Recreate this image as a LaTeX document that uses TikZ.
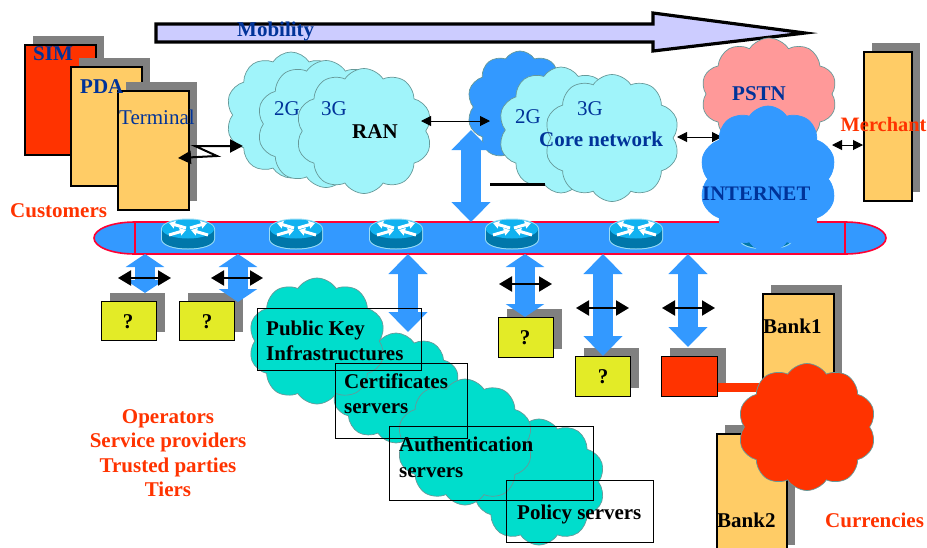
\documentclass[tikz,border=0pt]{standalone}
\usepackage{fontspec}
\setmainfont{Liberation Serif}
\usetikzlibrary{arrows.meta,shapes.symbols,shadows}
\definecolor{darkblue}{HTML}{003399}
\definecolor{netblue}{HTML}{3399FF}
\definecolor{redline}{HTML}{FF0033}
\definecolor{orangered}{HTML}{FF3300}
\definecolor{sand}{HTML}{FFCC66}
\definecolor{lemon}{HTML}{E3EB27}
\definecolor{aqua}{HTML}{A0F4FA}
\definecolor{teal1}{HTML}{00DDCC}
\definecolor{rose}{HTML}{FF9999}
\definecolor{lilac}{HTML}{CCCCFF}
\definecolor{puff}{HTML}{669999}
\definecolor{routerside}{HTML}{0077AA}
\definecolor{routertop}{HTML}{11B2F0}
\definecolor{routerrim}{HTML}{99DDF5}
\tikzset{
  box/.style={draw, rectangle, anchor=north west, line width=1.6pt, inner sep=0pt,
    drop shadow={shadow xshift=8pt, shadow yshift=9pt, fill=gray, opacity=1}},
  dim/.style 2 args={minimum width=#1, minimum height=#2},
  puffy/.style={cloud, cloud puffs=10, cloud puff arc=115, cloud ignores aspect, draw=puff, line width=.7pt, inner sep=0pt},
  frame/.style={draw, rectangle, anchor=north west, line width=.9pt, inner sep=0pt},
  txt/.style={anchor=base west, inner sep=0pt, font=\fontsize{21}{24}\selectfont},
  btxt/.style={txt, font=\fontsize{21}{24}\selectfont\bfseries},
  bluelink/.style={draw=netblue, line width=20pt, {Triangle[width=38pt,length=#1]}-{Triangle[width=38pt,length=#1]}},
  bluelink/.default=13pt,
  blacklink/.style={draw, line width=2pt, {Triangle[width=15pt,length=13pt]}-{Triangle[width=15pt,length=13pt]}},
  thinlink/.style={draw, line width=1pt, {Triangle[width=10pt,length=10pt]}-{Triangle[width=10pt,length=10pt]}},
  whitetip/.style={white, line width=3pt, -{Triangle[width=7.5pt,length=6pt]}},
  router/.pic={
    \fill[routerrim] (-27,-5) .. controls (-27,-11) and (-15,-15.5) .. (0,-15.5) .. controls (15,-15.5) and (27,-11) .. (27,-5)
      -- (27,5) .. controls (27,11.5) and (15,15.5) .. (0,15.5) .. controls (-15,15.5) and (-27,11.5) .. (-27,5) -- cycle;
    \fill[routerside] (-26,-5) -- (-26,5) .. controls (-26,10.5) and (-14.6,14.5) .. (0,14.5)
      .. controls (14.6,14.5) and (26,10.5) .. (26,5) -- (26,-5) -- cycle;
    \fill[routertop] (0,-5) ellipse [x radius=26pt, y radius=9.5pt];
    \draw[whitetip] (-2,-6) -- (-19,-11);
    \draw[whitetip] (-19,1) -- (-2,-4);
    \draw[whitetip] (2,-6) -- (19,-11);
    \draw[whitetip] (20,1) -- (3,-4);
  },
}

\begin{document}
\begin{tikzpicture}[x=1pt, y=-1pt]
    \useasboundingbox (0,0) rectangle (927,547);

    % Mobility arrow
    \draw[fill=lilac, line width=3.2pt] (156,24) -- (653,24) -- (653,13) -- (805,33) -- (653,51) -- (653,42) -- (156,42) -- cycle;
    \node[btxt, text=darkblue] (mobility) at (237,36) {Mobility};

    % Customers
    \node[box, dim={71}{110}, fill=orangered] (sim) at (24,44) {};
    \node[box, dim={71}{119}, fill=sand] (pda) at (70,66) {};
    \node[box, dim={71}{119}, fill=sand] (terminal) at (117,90) {};
    \node[btxt, text=darkblue] (simtext) at (33,60) {SIM};
    \node[btxt, text=darkblue] (pdatext) at (80,93) {PDA};
    \node[txt, text=darkblue] (terminaltext) at (119,124) {Terminal};
    \node[btxt, text=orangered] (customers) at (10,217) {Customers};

    % RAN
    \node[puffy, dim={130}{126}, fill=aqua] (ran-1) at (291,115) {};
    \node[puffy, dim={138}{127}, fill=aqua] (ran-2) at (326,124) {};
    \node[puffy, dim={136}{125}, fill=aqua] (ran-3) at (364,131) {};
    \node[txt, text=darkblue] (ran2g) at (274,115) {2G};
    \node[txt, text=darkblue] (ran3g) at (321,115) {3G};
    \node[btxt] (rantext) at (352,138) {RAN};

    % Core network
    \node[puffy, dim={106}{112}, fill=netblue] (core-1) at (520,107) {};
    \node[puffy, dim={125}{126}, fill=aqua] (core-2) at (561,130) {};
    \node[puffy, dim={135}{127}, fill=aqua] (core-3) at (612,138) {};
    \node[txt, text=darkblue] (core2g) at (515,123) {2G};
    \node[txt, text=darkblue] (core3g) at (577,115) {3G};
    \node[btxt, text=darkblue] (coretext) at (539,146) {Core network};
    \draw[line width=3pt] (490,184) -- (545,184);

    % Backbone
    \draw[fill=netblue, draw=redline, line width=1.6pt] (135,222) -- (845,222) .. controls (868,222) and (886,229) .. (886,238)
      .. controls (886,247) and (868,254) .. (845,254) -- (135,254) .. controls (112,254) and (94,247) .. (94,238)
      .. controls (94,229) and (112,222) .. (135,222) -- cycle;
    \draw[draw=redline, line width=1.6pt] (135,222) -- (135,254);
    \draw[draw=redline, line width=1.6pt] (845,222) -- (845,254);
    \foreach \x/\n in {188/1,296/2,396/3,512/4,636/5,766/6}
      \pic (router-\n) at (\x,234) {router};

    % PSTN, Internet and Merchant
    \node[puffy, dim={136}{112}, fill=rose] (pstn) at (769,94) {};
    \coordinate (core-out) at (677,137);
    \coordinate (inet-in) at (722,137);
    \draw[thinlink] (core-out) -- (inet-in);
    \node[puffy, dim={137}{146}, fill=netblue, draw=netblue] (internet) at (768,179) {};
    \node[btxt, text=darkblue] (pstntext) at (732,100) {PSTN};
    \node[btxt, text=darkblue, font=\fontsize{20.7}{24}\selectfont\bfseries] (internettext) at (702,200) {INTERNET};
    \node[box, dim={48}{149}, fill=sand] (merchant) at (863,51) {};
    \node[btxt, text=orangered, font=\fontsize{20.4}{24}\selectfont\bfseries] (merchanttext) at (840.5,131) {Merchant};
    \coordinate (inet-out) at (832,145);
    \draw[thinlink] (inet-out) -- (merchant.west |- inet-out);

    % links between RAN and core
    \coordinate (ran-out) at (421,121);
    \coordinate (core-in) at (490,121);
    \draw[thinlink] (ran-out) -- (core-in);
    \coordinate (term-out) at (178,158);
    \coordinate (ran-in) at (243,146);
    \draw[line width=2pt, {Triangle[width=13pt,length=13pt]}-{Triangle[width=13pt,length=13pt]}] (term-out) -- (217,156) -- (195,146) -- (ran-in);

    % Trust clouds
    \node[puffy, dim={132}{126}, fill=teal1] (policy) at (539,482) {};
    \node[puffy, dim={128}{110}, fill=teal1] (cert) at (396,388) {};
    \node[puffy, dim={136}{126}, fill=teal1] (auth) at (465,442) {};
    \node[puffy, dim={137}{126}, fill=teal1] (pki) at (317,341) {};

    % Unknown boxes
    \node[box, dim={55}{39}, line width=1pt, fill=lemon] (q-1) at (101,301) {};
    \node[box, dim={55}{39}, line width=1pt, fill=lemon] (q-2) at (179,301) {};
    \node[box, dim={55}{40}, line width=1pt, fill=lemon] (q-3) at (498,317) {};
    \node[box, dim={55}{40}, line width=1pt, fill=lemon] (q-4) at (575,356) {};
    \node[box, dim={56}{40}, line width=1pt, fill=orangered] (cash) at (661,356) {};

    % Blue links
    \coordinate (b-1) at (145,254);
    \coordinate (b-2) at (238,254);
    \coordinate (b-3) at (408,254);
    \coordinate (b-4) at (525,254);
    \coordinate (b-5) at (603,254);
    \coordinate (b-6) at (688,254);
    \coordinate (u-1) at (471,130);
    \coordinate (u-2) at (471,222);
    \draw[bluelink] (b-1) -- (145,293);
    \draw[bluelink] (b-2) -- (238,302);
    \draw[bluelink=20pt] (b-3) -- (408,332);
    \draw[bluelink] (b-4) -- (525,317);
    \draw[bluelink=20pt] (b-5) -- (603,356);
    \draw[bluelink=20pt] (b-6) -- (688,347);
    \draw[bluelink=20pt] (u-1) -- (u-2);

    % Black links
    \draw[blacklink] (118,278) -- (171,278);
    \draw[blacklink] (211,278) -- (263,278);
    \draw[blacklink] (499,284) -- (552,284);
    \draw[blacklink] (576,308) -- (629,308);
    \draw[blacklink] (662,308) -- (715,308);

    \node[btxt, anchor=base] (q-1-text) at (128,328) {?};
    \node[btxt, anchor=base] (q-2-text) at (207,328) {?};
    \node[btxt, anchor=base] (q-3-text) at (525,344) {?};
    \node[btxt, anchor=base] (q-4-text) at (603,383) {?};

    % Trust frames
    \node[frame, dim={164}{62}] (pki-frame) at (257,308) {};
    \node[frame, dim={132}{75}] (cert-frame) at (335,363) {};
    \node[frame, dim={204}{74}] (auth-frame) at (389,426) {};
    \node[frame, dim={147}{62}] (policy-frame) at (506,480) {};
    \node[btxt] (pki-1) at (266,335) {Public Key};
    \node[btxt] (pki-2) at (266,360) {Infrastructures};
    \node[btxt] (cert-1) at (344,388) {Certificates};
    \node[btxt] (cert-2) at (344,413) {servers};
    \node[btxt] (auth-1) at (399,451) {Authentication};
    \node[btxt] (auth-2) at (399,477) {servers};
    \node[btxt] (policy-1) at (517,519) {Policy servers};

    % Operators
    \node[btxt, anchor=center, align=center, text=orangered, font=\fontsize{21}{24.5}\selectfont\bfseries] (operators) at (168,453)
      {Operators\\Service providers\\Trusted parties\\Tiers};

    % Banks
    \node[box, dim={71}{110}, fill=sand] (bank-1) at (762,293) {};
    \node[box, dim={70}{120}, fill=sand] (bank-2) at (716,433) {};
    \draw[orangered, line width=9pt] (cash.east |- 0,387) -- (765,387);
    \node[puffy, dim={138}{127}, fill=orangered] (money) at (807,427) {};
    \node[btxt] (bank-1-text) at (763,333) {Bank1};
    \node[btxt] (bank-2-text) at (717,527) {Bank2};
    \node[btxt, text=orangered] (currencies) at (825,527) {Currencies};
\end{tikzpicture}
\end{document}
